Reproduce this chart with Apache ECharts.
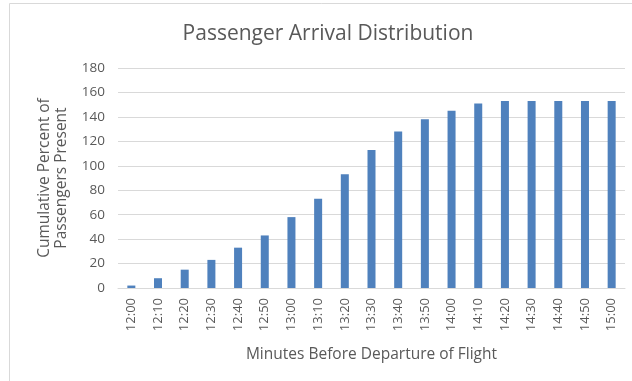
<!DOCTYPE html>
<html><head><meta charset="utf-8">
<script src="https://cdn.jsdelivr.net/npm/echarts@6/dist/echarts.min.js"></script>
<style>html,body{margin:0;padding:0;background:#fff}#c{width:632px;height:381px}</style>
</head><body><div id="c"></div>
<script>
const categories = ['12:00','12:10','12:20','12:30','12:40','12:50','13:00','13:10','13:20','13:30','13:40','13:50','14:00','14:10','14:20','14:30','14:40','14:50','15:00'];
const values = [2, 8, 15, 23, 33, 43, 58, 73, 93, 113, 128, 138, 145, 151, 153, 153, 153, 153, 153];
const font = 'Open Sans';
const chart = echarts.init(document.getElementById('c'), null, {renderer: 'canvas'});
chart.setOption({
  animation: false,
  graphic: [{type: 'rect', shape: {x: 9.5, y: 3.5, width: 700, height: 500}, style: {fill: 'none', stroke: '#d9d9d9', lineWidth: 1}, silent: true}],
  title: {text: 'Passenger Arrival Distribution', left: 323, top: 19, textAlign: 'center',
    textStyle: {fontFamily: font, fontSize: 21, fontWeight: 'normal', color: '#595959'}},
  grid: {left: 118, right: 7, top: 68, bottom: 93},
  xAxis: {type: 'category', data: categories,
    name: 'Minutes Before Departure of Flight', nameLocation: 'middle', nameGap: 59,
    nameTextStyle: {fontFamily: font, fontSize: 15.5, color: '#595959'},
    axisLine: {lineStyle: {color: '#d9d9d9'}}, axisTick: {show: false},
    axisLabel: {rotate: 90, interval: 0, margin: 10, fontFamily: font, fontSize: 13, color: '#595959'}},
  yAxis: {type: 'value', min: 0, max: 180, interval: 20,
    name: 'Cumulative Percent of\nPassengers Present', nameLocation: 'middle', nameGap: 48, nameRotate: 90,
    nameTextStyle: {fontFamily: font, fontSize: 15.5, color: '#595959', lineHeight: 17},
    axisLine: {show: false}, axisTick: {show: false},
    axisLabel: {fontFamily: font, fontSize: 13.5, color: '#595959', margin: 13},
    splitLine: {lineStyle: {color: '#d9d9d9'}}},
  series: [{type: 'bar', data: values, barWidth: '30%', itemStyle: {color: '#4f81bd'}}]
});
</script></body></html>
